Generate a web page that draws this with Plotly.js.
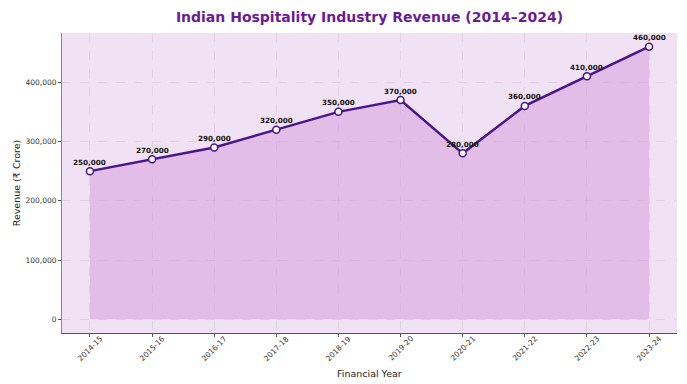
<!DOCTYPE html>
<html>
<head>
<meta charset="utf-8">
<script src="https://cdn.plot.ly/plotly-3.0.1.min.js"></script>
<style>html,body{margin:0;padding:0;background:#fff;}#chart{width:687px;height:384px;}</style>
</head>
<body>
<div id="chart"></div>
<script>
const years = ["2014-15","2015-16","2016-17","2017-18","2018-19","2019-20","2020-21","2021-22","2022-23","2023-24"];
const revenue = [250000,270000,290000,320000,350000,370000,280000,360000,410000,460000];
const yTicks = [0,100000,200000,300000,400000];

const fmt = v => v.toLocaleString('en-US');
const xIdx = years.map((_, i) => i);

const fillTrace = {
  x: xIdx, y: revenue, type: 'scatter', mode: 'none',
  fill: 'tozeroy', fillcolor: 'rgba(206,147,216,0.45)', hoverinfo: 'skip'
};
const lineTrace = {
  x: xIdx, y: revenue, type: 'scatter', mode: 'lines+markers',
  line: {color: '#4a148c', width: 2.5},
  marker: {size: 7, color: '#ffffff', line: {color: '#4a148c', width: 1.5}}
};

const valueLabels = xIdx.map((i) => ({
  x: i, y: revenue[i], xref: 'x', yref: 'y', text: fmt(revenue[i]),
  showarrow: false, yshift: 9,
  font: {family: 'DejaVu Sans', size: 7.2, color: '#111', weight: 'bold'}
}));
const tickLabels = xIdx.map((i) => ({
  x: i, y: 0, xref: 'x', yref: 'paper', text: years[i],
  showarrow: false, textangle: -45, xanchor: 'center', yanchor: 'middle', yshift: -15,
  font: {family: 'DejaVu Sans', size: 7.5, color: '#333'}
}));
const xTitle = [{
  x: 0.5, y: 0, xref: 'paper', yref: 'paper', text: 'Financial Year',
  showarrow: false, xanchor: 'center', yanchor: 'middle', yshift: -40,
  font: {family: 'DejaVu Sans', size: 9.5, color: '#222'}
}];

const layout = {
  width: 687, height: 384,
  margin: {l: 62, r: 10, t: 33, b: 51},
  paper_bgcolor: '#ffffff',
  plot_bgcolor: '#f1e1f4',
  showlegend: false,
  font: {family: 'DejaVu Sans', color: '#222'},
  title: {
    text: '<b>Indian Hospitality Industry Revenue (2014–2024)</b>',
    font: {family: 'DejaVu Sans', size: 14, color: '#6a1b9a'},
    xref: 'paper', x: 0.5, xanchor: 'center',
    yref: 'container', y: 1 - 17/384, yanchor: 'middle'
  },
  xaxis: {
    range: [-0.45, 9.45],
    tickmode: 'array', tickvals: xIdx, ticktext: years.map(() => ''),
    ticks: 'outside', ticklen: 3, tickcolor: '#555',
    showline: true, linecolor: '#555', linewidth: 1,
    showgrid: true, gridcolor: 'rgba(150,150,150,0.22)', griddash: 'dash', gridwidth: 0.8,
    zeroline: false
  },
  yaxis: {
    range: [-23000, 483000],
    tickmode: 'array', tickvals: yTicks, ticktext: yTicks.map(fmt),
    tickfont: {size: 7.5, color: '#333'},
    ticks: 'outside', ticklen: 3, tickcolor: '#555',
    showline: true, linecolor: '#888', linewidth: 1,
    showgrid: true, gridcolor: 'rgba(150,150,150,0.22)', griddash: 'dash', gridwidth: 0.8,
    zeroline: false,
    title: {text: 'Revenue (₹ Crore)', font: {size: 9.5, color: '#222'}, standoff: 3}
  },
  annotations: valueLabels.concat(tickLabels, xTitle)
};

Plotly.newPlot('chart', [fillTrace, lineTrace], layout, {displayModeBar: false, staticPlot: true});
</script>
</body>
</html>
